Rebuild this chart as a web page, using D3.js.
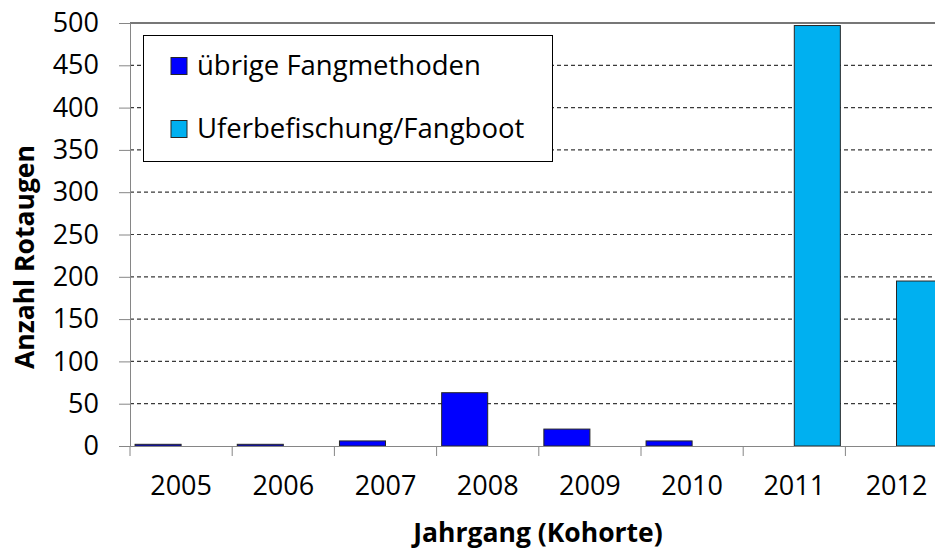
<!DOCTYPE html>
<html><head><meta charset="utf-8">
<script src="https://cdn.jsdelivr.net/npm/d3@7"></script>
<style>body{margin:0;background:#fff}svg{display:block}text{font-family:"Open Sans",sans-serif;fill:#000}</style>
</head><body>
<svg id="c" width="935" height="549"></svg>
<script>
const years = ["2005","2006","2007","2008","2009","2010","2011","2012"];
const uebrige = [2, 2, 6, 63, 20, 6, 0, 0];
const ufer = [0, 0, 0, 0, 0, 0, 497, 195];
const seriesNames = ["übrige Fangmethoden", "Uferbefischung/Fangboot"];
const seriesColors = ["#0000FF", "#00B0F0"];
const yTicks = [0, 50, 100, 150, 200, 250, 300, 350, 400, 450, 500];

const svg = d3.select("#c");
const L = 130, T = 23, B = 446, R = 130 + 8 * 102.2;

const x = d3.scaleBand().domain(years).range([L, R]).paddingInner(0).paddingOuter(0);
const xs = d3.scaleBand().domain([0, 1]).range([0, x.bandwidth()]).paddingInner(0).paddingOuter(0.11);
const y = d3.scaleLinear().domain([0, 500]).range([B, T]);

// gridlines
svg.append("g").selectAll("line").data(yTicks.filter(v => v > 0 && v < 500)).join("line")
  .attr("x1", L).attr("x2", 935).attr("y1", d => y(d)).attr("y2", d => y(d))
  .attr("stroke", "#3a3a3a").attr("stroke-width", 1.2).attr("stroke-dasharray", "4,3");
// top border
svg.append("line").attr("x1", L).attr("x2", 935).attr("y1", y(500)).attr("y2", y(500))
  .attr("stroke", "#4a4a4a").attr("stroke-width", 1.3);

// bars
const data = [];
years.forEach((yr, i) => {
  [uebrige[i], ufer[i]].forEach((v, s) => { if (v > 0) data.push({yr, s, v}); });
});
svg.append("g").selectAll("rect").data(data).join("rect")
  .attr("x", d => x(d.yr) + xs(d.s))
  .attr("width", xs.bandwidth())
  .attr("y", d => y(d.v))
  .attr("height", d => y(0) - y(d.v))
  .attr("fill", d => seriesColors[d.s])
  .attr("stroke", "#262626").attr("stroke-width", 1);

// y axis
const yAxis = d3.axisLeft(y).tickValues(yTicks).tickSize(11).tickPadding(20);
const gy = svg.append("g").attr("transform", `translate(${L},0)`).call(yAxis);
gy.select(".domain").attr("stroke", "#868686");
gy.selectAll(".tick line").attr("stroke", "#868686");
gy.selectAll(".tick text").style("font-size", "27px").style("font-family", "'Open Sans',sans-serif").attr("fill", "#000");

// x axis
const xAxis = d3.axisBottom(x).tickSize(0).tickPadding(30);
const gx = svg.append("g").attr("transform", `translate(0,${B})`).call(xAxis);
gx.select(".domain").attr("stroke", "#868686");
gx.selectAll(".tick text").style("font-size", "27px").style("font-family", "'Open Sans',sans-serif").attr("fill", "#000");
// category boundary ticks
gx.append("g").selectAll("line").data(years).join("line")
  .attr("x1", d => x(d)).attr("x2", d => x(d)).attr("y1", 0).attr("y2", 10)
  .attr("stroke", "#868686");

// axis titles
svg.append("text").attr("x", 538).attr("y", 542).attr("text-anchor", "middle")
  .style("font-size", "26.5px").style("font-weight", "bold").text("Jahrgang (Kohorte)");
svg.append("text").attr("transform", "translate(34,257) rotate(-90)").attr("text-anchor", "middle")
  .style("font-size", "26.5px").style("font-weight", "bold").text("Anzahl Rotaugen");

// legend
const lg = svg.append("g");
lg.append("rect").attr("x", 143.5).attr("y", 35.5).attr("width", 409).attr("height", 126)
  .attr("fill", "#fff").attr("stroke", "#000").attr("stroke-width", 1);
seriesNames.forEach((n, i) => {
  const cy = 66 + i * 63;
  lg.append("rect").attr("x", 171).attr("y", cy - 8.5).attr("width", 16).attr("height", 17)
    .attr("fill", seriesColors[i]).attr("stroke", "#262626").attr("stroke-width", 1);
  lg.append("text").attr("x", 197).attr("y", cy + 9).style("font-size", "27.5px").text(n);
});
</script>
</body></html>
